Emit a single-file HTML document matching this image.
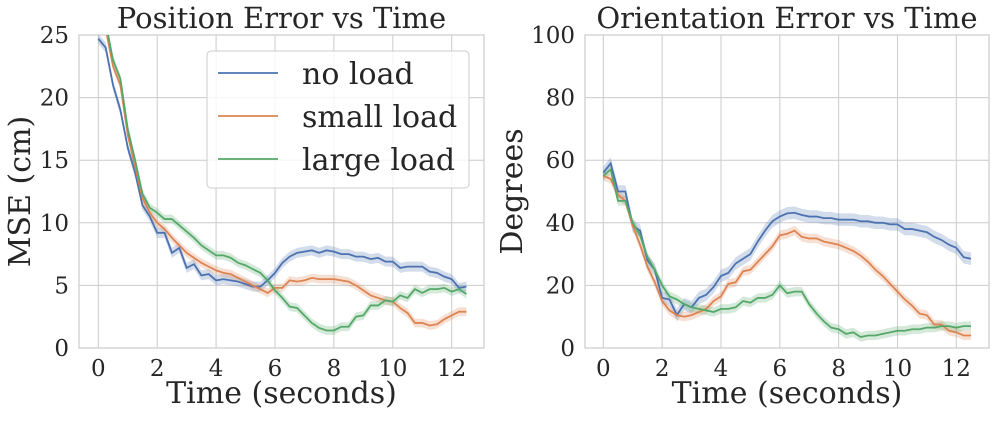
<!DOCTYPE html>
<html><head><meta charset="utf-8"><style>
body{margin:0;background:#fff}
svg text{font-family:"DejaVu Serif","Liberation Serif",serif;fill:#262626}
</style></head><body>
<svg id="c" width="996" height="420" xmlns="http://www.w3.org/2000/svg"></svg>
<script>
const times=[0,0.25,0.5,0.75,1,1.25,1.5,1.75,2,2.25,2.5,2.75,3,3.25,3.5,3.75,4,4.25,4.5,4.75,5,5.25,5.5,5.75,6,6.25,6.5,6.75,7,7.25,7.5,7.75,8,8.25,8.5,8.75,9,9.25,9.5,9.75,10,10.25,10.5,10.75,11,11.25,11.5,11.75,12,12.25,12.5];
const posNoLoad=[24.7,24,21,19,16,14,11.4,10.5,9.2,9.2,7.6,8,6.4,6.7,5.8,5.9,5.4,5.5,5.4,5.3,5.1,4.9,4.9,5.4,6,6.8,7.3,7.6,7.7,7.8,7.6,7.8,7.7,7.5,7.5,7.3,7.3,7.1,7.2,6.9,6.9,6.4,6.5,6.5,6.5,6.1,6.0,5.7,5.5,4.8,4.9];
const posSmall=[26,25.5,22.5,21,17,14.5,12,10.8,10,9.5,8.8,8.2,7.6,7.2,6.8,6.5,6.2,6.0,5.9,5.6,5.3,5.0,4.7,4.4,4.8,4.8,5.4,5.3,5.4,5.6,5.5,5.5,5.5,5.4,5.3,5.0,4.6,4.2,4.0,3.8,3.7,3.2,2.8,2.0,2.0,1.8,1.9,2.3,2.6,2.9,2.9];
const posLarge=[27,26,23,21.5,17.5,15,12.3,11.2,10.8,10.3,10.3,9.8,9.3,8.8,8.2,7.8,7.4,7.4,7.2,6.8,6.6,6.3,6.0,5.4,4.6,4.0,3.3,3.2,2.6,2.0,1.6,1.4,1.4,1.7,1.7,2.5,2.6,3.4,3.4,3.8,3.7,4.2,4.0,4.7,4.4,4.7,4.7,4.8,4.5,4.7,4.3];
const oriNoLoad=[56,59,50,50,39,37.5,28,25,16,15.5,10.5,14,13,16,17,19.5,23,24,27,28.5,30,34,37.5,40.5,42,43,43.2,42.5,42,42,41.5,41.5,41,41,41,40.5,40.5,40,40,39.5,39.5,38,38,37.5,37,35.5,34.5,33,32,29,28.5];
const oriSmall=[55,54,49,47,39,33,26,21,15,12,10.5,10,10.5,11.5,12.5,15,16.5,20.5,21,24.5,25,27.5,30,32.5,36,36.5,37.5,35.5,35,35,34,33.5,33,32,31,29.5,27.5,25,23,20.5,18,15.5,13.5,11,10.5,7.5,7.5,5.5,5,4,4];
const oriLarge=[55,57,47,47,40,36,29,25,20,16.5,15.5,14,13,12.5,12,11.5,12.5,12.5,13,15,14.5,16,16,17,20,17.5,18,18,14,11,8.5,6.5,6,4.5,5,3.5,4,4,4.5,5,5.5,5.5,6,6,6.5,6.5,7,7,6.5,7,7];
const posCI=[0.4,0.35,0.35];
const oriCI=[2,1.5,1.5];
const xTicks=[0,2,4,6,8,10,12];
const posTicks=[0,5,10,15,20,25];
const oriTicks=[0,20,40,60,80,100];
const seriesNames=["no load","small load","large load"];
const colors=["#4c72b0","#dd8452","#55a868"];
const NS="http://www.w3.org/2000/svg";
const svg=document.getElementById('c');
function mk(t,a,p){const e=document.createElementNS(NS,t);for(const k in a)e.setAttribute(k,a[k]);(p||svg).appendChild(e);return e;}
function panel(id,L,R,T,B,x0,x12,ymax,yt,series,ci,title,ylab){
  const g=mk('g',{});
  
  
  const xs=v=>x0+(x12-x0)*v/12, ys=v=>B-(B-T)*v/ymax;
  const cp=mk('clipPath',{id:id+'clip'},g);mk('rect',{x:L,y:T,width:R-L,height:B-T},cp);
  xTicks.forEach(t=>{const l=mk('line',{x1:xs(t),x2:xs(t),y1:T,y2:B,stroke:'#cccccc','stroke-width':1},g);
    
    const tx=mk('text',{x:xs(t),y:B+28,'text-anchor':'middle','font-size':23},g);tx.textContent=t;
    });
  yt.forEach(t=>{const l=mk('line',{x1:L,x2:R,y1:ys(t),y2:ys(t),stroke:'#cccccc','stroke-width':1},g);
    
    const tx=mk('text',{x:L-10,y:ys(t)+8,'text-anchor':'end','font-size':23},g);tx.textContent=t;
    });
  const fr=mk('rect',{x:L,y:T,width:R-L,height:B-T,fill:'none',stroke:'#cccccc','stroke-width':1.2},g);
  
  const dg=mk('g',{'clip-path':'url(#'+id+'clip)'},g);
  series.forEach((s,i)=>{
    let up=s.map((v,j)=>xs(times[j])+','+ys(v+ci[i])).join(' ');
    let dn=s.map((v,j)=>xs(times[j])+','+ys(Math.max(0,v-ci[i]))).reverse().join(' ');
    const b=mk('polygon',{points:up+' '+dn,fill:colors[i],'fill-opacity':0.25,stroke:'none'},dg);
    
  });
  series.forEach((s,i)=>{
    const p=mk('polyline',{points:s.map((v,j)=>xs(times[j])+','+ys(v)).join(' '),fill:'none',stroke:colors[i],'stroke-width':1.8},dg);
    
  });
  const tt=mk('text',{x:(L+R)/2,y:28,'text-anchor':'middle','font-size':29},g);tt.textContent=title;
  
  const xl=mk('text',{x:(L+R)/2,y:403,'text-anchor':'middle','font-size':30},g);xl.textContent='Time (seconds)';
  
  const yl=mk('text',{x:0,y:0,'text-anchor':'middle','font-size':30,transform:'translate('+(id==='pos'?30:L-63)+','+(T+B)/2+') rotate(-90)'},g);yl.textContent=ylab;
  
  return g;
}
panel('pos',79,484,35,348,98.3,451.7,25,posTicks,[posNoLoad,posSmall,posLarge],posCI,'Position Error vs Time','MSE (cm)');
panel('ori',585,989,35,348,603.3,956.3,100,oriTicks,[oriNoLoad,oriSmall,oriLarge],oriCI,'Orientation Error vs Time','Degrees');
const lg=mk('g',{});

mk('rect',{x:207,y:51,width:262,height:137,rx:4,fill:'#fff','fill-opacity':0.8,stroke:'#cccccc'},lg);
seriesNames.forEach((n,i)=>{const e=mk('g',{},lg);
  
  mk('line',{x1:218,x2:278,y1:73+43*i,y2:73+43*i,stroke:colors[i],'stroke-width':1.8},e);
  const t=mk('text',{x:302,y:84+43*i,'font-size':30},e);t.textContent=n;});
</script>
</body></html>
